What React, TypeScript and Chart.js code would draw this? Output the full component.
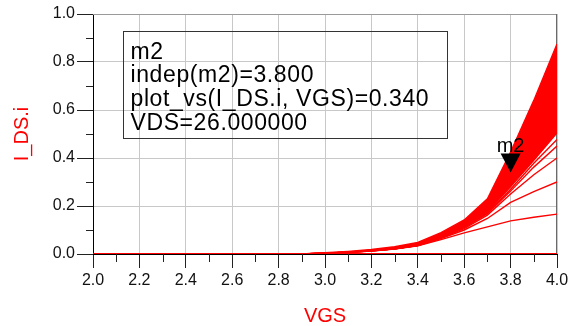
import { useEffect, useRef } from 'react';
import { Chart, registerables } from 'chart.js';

Chart.register(...registerables);

// ---- data ----
const VGS = [2.0, 2.1, 2.2, 2.3, 2.4, 2.5, 2.6, 2.7, 2.8, 2.9, 3.0, 3.1, 3.2, 3.3, 3.4, 3.5, 3.6, 3.7, 3.8, 3.9, 4.0];

const IDS_C0 = [0, 0, 0, 0, 0, 0, 0, 0, 0, 0, 0, 0, 0, 0, 0, 0, 0, 0, 0, 0, 0];
const IDS_C1 = [0, 0, 0, 0, 0, 0, 0, 0, 0, 0, 0.003, 0.007, 0.012, 0.021, 0.034, 0.060, 0.088, 0.113, 0.138, 0.153, 0.166];
const IDS_C2 = [0, 0, 0, 0, 0, 0, 0, 0, 0, 0, 0.003, 0.007, 0.012, 0.022, 0.035, 0.064, 0.100, 0.148, 0.215, 0.260, 0.300];
const IDS_C3 = [0, 0, 0, 0, 0, 0, 0, 0, 0, 0, 0.003, 0.007, 0.013, 0.022, 0.035, 0.066, 0.106, 0.162, 0.250, 0.330, 0.400];
const IDS_C4 = [0, 0, 0, 0, 0, 0, 0, 0, 0, 0, 0.003, 0.007, 0.013, 0.022, 0.036, 0.067, 0.110, 0.168, 0.262, 0.362, 0.450];
const IDS_C5 = [0, 0, 0, 0, 0, 0, 0, 0, 0, 0, 0.003, 0.007, 0.013, 0.022, 0.036, 0.067, 0.112, 0.171, 0.270, 0.378, 0.477];
const IDS_BAND_LOW = [0, 0, 0, 0, 0, 0, 0, 0, 0, 0, 0.003, 0.007, 0.013, 0.022, 0.036, 0.068, 0.115, 0.175, 0.280, 0.390, 0.505];
const IDS_VDS26 = [0, 0, 0, 0, 0, 0, 0, 0, 0, 0, 0.004, 0.008, 0.015, 0.025, 0.041, 0.077, 0.127, 0.198, 0.340, 0.480, 0.640];
const IDS_BAND_HIGH = [0, 0, 0, 0, 0, 0, 0, 0, 0, 0.0006, 0.005, 0.011, 0.019, 0.030, 0.048, 0.089, 0.142, 0.230, 0.425, 0.640, 0.875];

const X_MAJOR = [2.0, 2.2, 2.4, 2.6, 2.8, 3.0, 3.2, 3.4, 3.6, 3.8, 4.0];
const X_MINOR = [2.1, 2.3, 2.5, 2.7, 2.9, 3.1, 3.3, 3.5, 3.7, 3.9];
const Y_MAJOR = [0.0, 0.2, 0.4, 0.6, 0.8, 1.0];
const Y_MINOR = [0.1, 0.3, 0.5, 0.7, 0.9];

const MARKER_NAME = 'm2';
const MARKER_VGS = 3.8;
const MARKER_IDS = 0.34;
const MARKER_VDS = 26;

const RED = '#ff0000';
const FONT = "'Liberation Sans', Arial, sans-serif";

const toPts = (ys: number[]) => VGS.map((x, i) => ({ x, y: ys[i] }));

const line = (label: string, ys: number[], extra: any = {}) => ({
  label,
  data: toPts(ys),
  borderColor: RED,
  backgroundColor: RED,
  borderWidth: 1.4,
  pointRadius: 0,
  tension: 0,
  ...extra,
});

const overlay = {
  id: 'adsOverlay',
  beforeDatasetsDraw(chart: any) {
    const { ctx, chartArea: a } = chart;
    ctx.save();
    ctx.strokeStyle = '#9a9a9a';
    ctx.lineWidth = 1;
    ctx.beginPath();
    ctx.moveTo(a.left, a.top + 0.5);
    ctx.lineTo(a.right, a.top + 0.5);
    ctx.stroke();
    ctx.strokeStyle = '#6a6a6a';
    ctx.beginPath();
    ctx.moveTo(Math.round(a.right) - 0.5, a.top);
    ctx.lineTo(Math.round(a.right) - 0.5, a.bottom);
    ctx.stroke();
    ctx.restore();
  },
  afterDatasetsDraw(chart: any) {
    const { ctx, chartArea: a, scales } = chart;
    const xs = scales.x;
    const ys = scales.y;
    ctx.save();
    // minor ticks
    ctx.strokeStyle = '#222';
    ctx.lineWidth = 1;
    ctx.beginPath();
    Y_MINOR.forEach((v) => {
      const y = Math.round(ys.getPixelForValue(v)) + 0.5;
      ctx.moveTo(a.left - 7, y);
      ctx.lineTo(a.left, y);
    });
    X_MINOR.forEach((v) => {
      const x = Math.round(xs.getPixelForValue(v)) + 0.5;
      ctx.moveTo(x, a.bottom);
      ctx.lineTo(x, a.bottom + 8);
    });
    ctx.stroke();

    // marker triangle
    const mx = xs.getPixelForValue(MARKER_VGS);
    const my = ys.getPixelForValue(MARKER_IDS);
    ctx.fillStyle = '#000';
    ctx.beginPath();
    ctx.moveTo(mx, my);
    ctx.lineTo(mx - 10, my - 19);
    ctx.lineTo(mx + 10, my - 19);
    ctx.closePath();
    ctx.fill();
    ctx.font = `20px ${FONT}`;
    ctx.textAlign = 'center';
    ctx.textBaseline = 'alphabetic';
    ctx.fillText(MARKER_NAME, mx, my - 20);

    // readout box
    const bx = a.left + 30.5;
    const by = a.top + 18;
    ctx.strokeStyle = '#333';
    ctx.strokeRect(bx, by - 0.5, 324, 107);
    ctx.textAlign = 'left';
    ctx.font = `23px ${FONT}`;
    try { (ctx as any).letterSpacing = '0.6px'; } catch (e) {}
    const lines = [
      MARKER_NAME,
      `indep(${MARKER_NAME})=${MARKER_VGS.toFixed(3)}`,
      `plot_vs(I_DS.i, VGS)=${MARKER_IDS.toFixed(3)}`,
      `VDS=${MARKER_VDS.toFixed(6)}`,
    ];
    lines.forEach((t, i) => ctx.fillText(t, bx + 7, by + 26.5 + i * 23.8));
    ctx.restore();
  },
};

export default function App() {
  const ref = useRef<HTMLCanvasElement | null>(null);
  useEffect(() => {
    if (!ref.current) return;
    const datasets: any[] = [
      line('VDS sweep 1', IDS_C0, { borderWidth: 2 }),
      line('VDS sweep 2', IDS_C1),
      line('VDS sweep 3', IDS_C2),
      line('VDS sweep 4', IDS_C3),
      line('VDS sweep 5', IDS_C4),
      line('VDS sweep 6', IDS_C5),
      line('VDS band low', IDS_BAND_LOW),
      line('VDS=26', IDS_VDS26),
      line('VDS band high', IDS_BAND_HIGH, { fill: 6, backgroundColor: RED }),
    ];
    const chart = new Chart(ref.current, {
      type: 'line',
      data: { datasets },
      plugins: [overlay],
      options: {
        animation: false,
        responsive: false,
        devicePixelRatio: 1,
        parsing: false,
        layout: { padding: { left: 0, right: 18, top: 14, bottom: 0 } },
        plugins: { legend: { display: false }, tooltip: { enabled: false } },
        scales: {
          x: {
            type: 'linear',
            min: 2.0,
            max: 4.0,
            afterFit: (s: any) => { s.height = 72; },
            afterBuildTicks: (s: any) => { s.ticks = X_MAJOR.map((v) => ({ value: v })); },
            ticks: {
              color: '#111',
              font: { family: FONT, size: 16 },
              padding: 3,
              maxRotation: 0,
              autoSkip: false,
              callback: (v: any) => Number(v).toFixed(1),
            },
            grid: { color: '#c8c8c8', tickColor: '#222', tickLength: 14, drawTicks: true },
            border: { color: '#000', width: 1 },
            title: {
              display: true,
              text: 'VGS',
              color: RED,
              font: { family: FONT, size: 20, lineHeight: 1 },
              padding: { top: 0, bottom: 0 },
            },
          },
          y: {
            type: 'linear',
            min: 0,
            max: 1,
            afterFit: (s: any) => { s.width = 93; },
            afterBuildTicks: (s: any) => { s.ticks = Y_MAJOR.map((v) => ({ value: v })); },
            ticks: {
              color: '#111',
              font: { family: FONT, size: 16 },
              padding: 2,
              autoSkip: false,
              callback: (v: any) => Number(v).toFixed(1),
            },
            grid: { color: '#c8c8c8', tickColor: '#222', tickLength: 16, drawTicks: true },
            border: { color: '#000', width: 1 },
            title: {
              display: true,
              text: 'I_DS.i',
              color: RED,
              font: { family: FONT, size: 20, lineHeight: 1 },
              padding: { top: 12, bottom: 0 },
            },
          },
        },
      },
    });
    return () => chart.destroy();
  }, []);
  return (
    <div style={{ position: 'absolute', left: 0, top: 0, width: 575, height: 326, background: '#fff' }}>
      <canvas ref={ref} width={575} height={326} style={{ display: 'block' }} />
    </div>
  );
}
